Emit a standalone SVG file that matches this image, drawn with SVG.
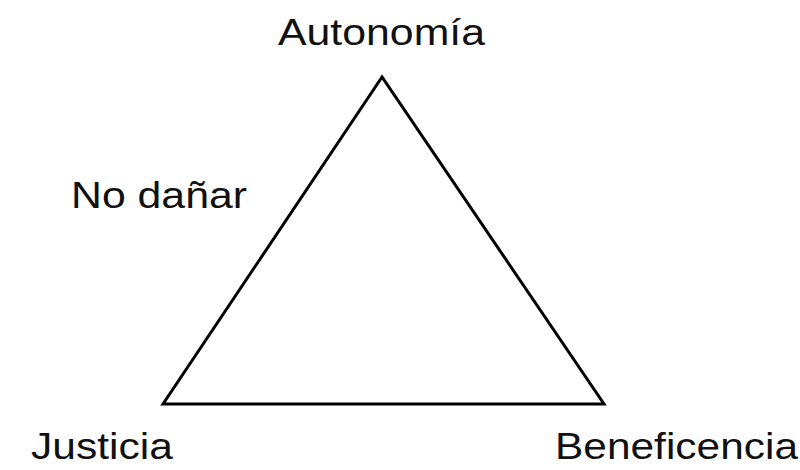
<svg xmlns="http://www.w3.org/2000/svg" width="800" height="470" viewBox="0 0 800 470">
<style>
text{font-family:"Liberation Sans",Arial,sans-serif;font-size:37px;fill:#111}
.edge{fill:none;stroke:#000;stroke-width:3;stroke-linejoin:miter}
</style>
<rect width="800" height="470" fill="#fff"/>
<g id="connectors">
<polygon class="edge" points="382,77 163,404 604,404"/>
</g>
<g id="autonomia"><text x="278" y="45" textLength="207" lengthAdjust="spacingAndGlyphs">Autonomía</text></g>
<g id="no-danar"><text x="71" y="208" textLength="176" lengthAdjust="spacingAndGlyphs">No dañar</text></g>
<g id="justicia"><text x="31" y="459" textLength="142" lengthAdjust="spacingAndGlyphs">Justicia</text></g>
<g id="beneficencia"><text x="555" y="459" textLength="243" lengthAdjust="spacingAndGlyphs">Beneficencia</text></g>
</svg>
